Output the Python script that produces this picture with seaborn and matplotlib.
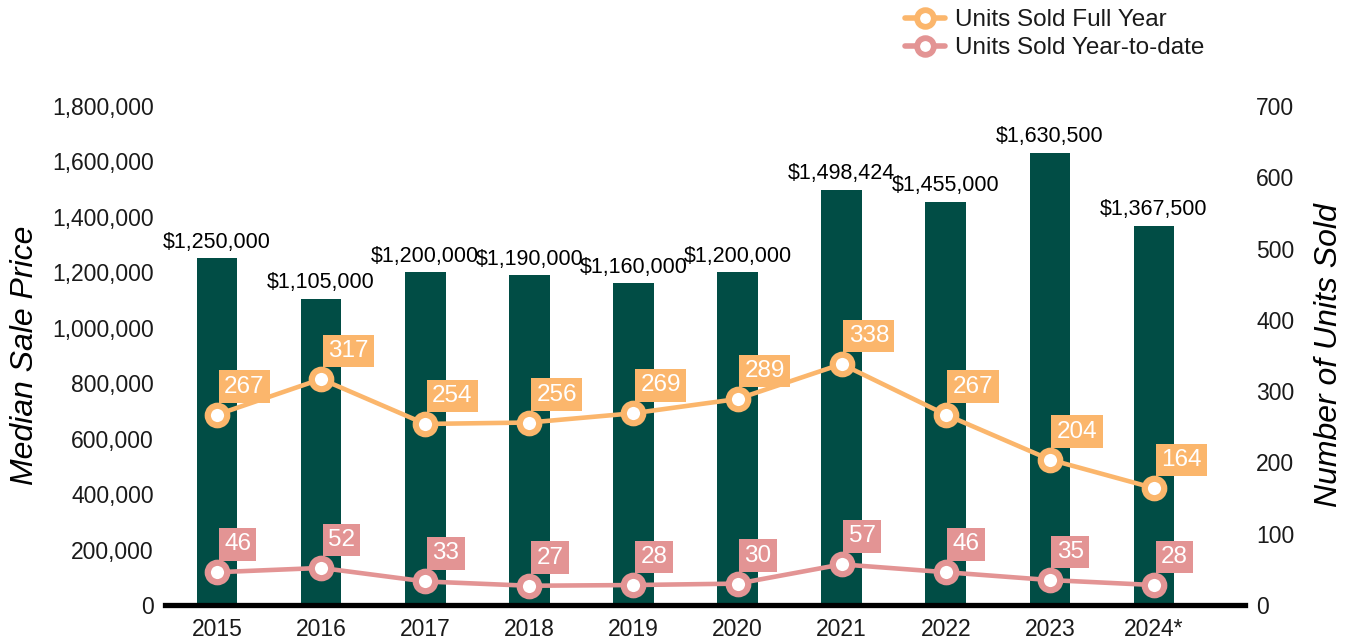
import matplotlib
matplotlib.use("Agg")
import matplotlib.pyplot as plt
import seaborn as sns
import pandas as pd
import numpy as np
from matplotlib.ticker import FuncFormatter, MultipleLocator
from matplotlib.lines import Line2D

years = ["2015", "2016", "2017", "2018", "2019", "2020", "2021", "2022", "2023", "2024*"]
median_price = [1250000, 1105000, 1200000, 1190000, 1160000, 1200000, 1498424, 1455000, 1630500, 1367500]
units_full_year = [267, 317, 254, 256, 269, 289, 338, 267, 204, 164]
units_ytd = [46, 52, 33, 27, 28, 30, 57, 46, 35, 28]

BAR = "#014D45"
ORANGE = "#FBB66C"
PINK = "#E39494"
TXT = "#1a1a1a"

sns.set_theme(style="white")
plt.rcParams["font.family"] = ["Liberation Sans", "DejaVu Sans"]

fig = plt.figure(figsize=(13.49, 6.4), dpi=100)
ax = fig.add_axes([165 / 1349, 1 - 605 / 640, (1245 - 165) / 1349, (605 - 106) / 640])

df = pd.DataFrame({"pos": np.arange(len(years)), "year": years, "price": median_price,
                   "full": units_full_year, "ytd": units_ytd})

sns.barplot(data=df, x="pos", y="price", color=BAR, width=0.39, saturation=1, ax=ax,
            native_scale=True, edgecolor="none")
ax.bar_label(ax.containers[0], labels=[f"${v:,}" for v in median_price], padding=4,
             fontsize=15.5, color="black")

ax.set_ylim(0, 1800000)
ax.yaxis.set_major_locator(MultipleLocator(200000))
ax.yaxis.set_major_formatter(FuncFormatter(lambda v, p: f"{int(v):,}"))
ax.set_xticks(np.arange(len(years)))
ax.set_xticklabels(years)
ax.set_xlim(-0.5, 9.875)
ax.tick_params(axis="both", length=0, labelsize=16.5, colors=TXT)
ax.tick_params(axis="x", pad=9)
ax.tick_params(axis="y", pad=8)
ax.set_xlabel("")
ax.set_ylabel("Median Sale Price", fontsize=23, style="italic", color="black", labelpad=9)
for s in ["left", "right", "top"]:
    ax.spines[s].set_visible(False)
ax.spines["bottom"].set_color("black")
ax.spines["bottom"].set_linewidth(3.8)
ax.spines["bottom"].set_zorder(5)

ax2 = ax.twinx()
sns.lineplot(data=df, x="pos", y="full", ax=ax2, color=ORANGE, linewidth=3.3, marker="o",
             markersize=14, markerfacecolor="white", markeredgecolor=ORANGE, markeredgewidth=4.5,
             zorder=4)
sns.lineplot(data=df, x="pos", y="ytd", ax=ax2, color=PINK, linewidth=3.3, marker="o",
             markersize=14, markerfacecolor="white", markeredgecolor=PINK, markeredgewidth=4.5,
             zorder=4)
ax2.set_ylim(0, 700)
ax2.set_xlim(-0.5, 9.875)
ax2.yaxis.set_major_locator(MultipleLocator(100))
ax2.tick_params(axis="y", length=0, labelsize=16.5, colors=TXT, pad=8)
ax2.set_ylabel("Number of Units Sold", fontsize=23, style="italic", color="black", labelpad=14)
ax2.set_xlabel("")
for s in ["left", "right", "top", "bottom"]:
    ax2.spines[s].set_visible(False)
ax2.grid(False)
ax.grid(False)

for i, (f, y) in enumerate(zip(units_full_year, units_ytd)):
    ax2.annotate(str(f), xy=(i, f), xytext=(7, 28), textcoords="offset pixels",
                 ha="left", va="center", fontsize=17.5, color="white", zorder=6,
                 bbox=dict(boxstyle="square,pad=0.22", fc=ORANGE, ec="none"))
    ax2.annotate(str(y), xy=(i, y), xytext=(7, 28), textcoords="offset pixels",
                 ha="left", va="center", fontsize=17.5, color="white", zorder=6,
                 bbox=dict(boxstyle="square,pad=0.22", fc=PINK, ec="none"))

handles = [
    Line2D([], [], color=ORANGE, linewidth=4, marker="o", markersize=12,
           markerfacecolor="white", markeredgecolor=ORANGE, markeredgewidth=4.2),
    Line2D([], [], color=PINK, linewidth=4, marker="o", markersize=12,
           markerfacecolor="white", markeredgecolor=PINK, markeredgewidth=4.2),
]
fig.legend(handles, ["Units Sold Full Year", "Units Sold Year-to-date"], loc="upper left",
           bbox_to_anchor=(883 / 1349, 1.02), frameon=False, fontsize=17.5,
           handlelength=1.65, handletextpad=0.4, labelspacing=0.25, labelcolor=TXT)

fig.savefig("out.png", dpi=100)
